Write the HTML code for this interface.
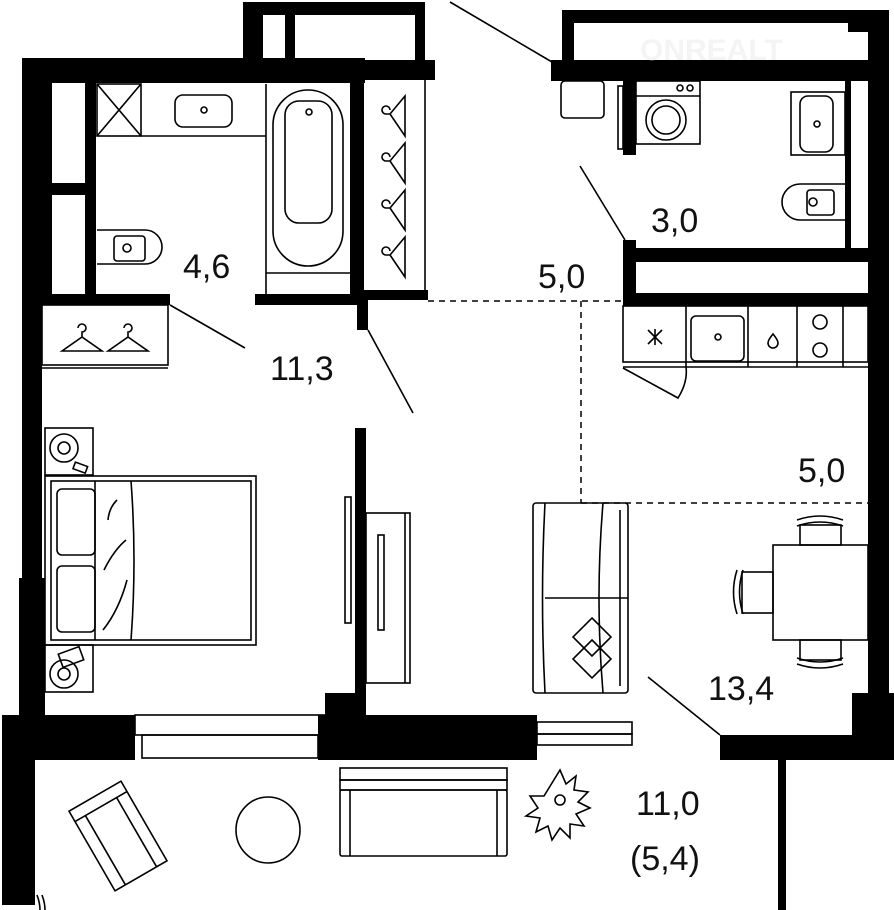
<!DOCTYPE html>
<html><head><meta charset="utf-8"><style>
html,body{margin:0;padding:0;background:#fff}
svg{display:block}
text{font-family:"Liberation Sans",sans-serif;fill:#111}
</style></head><body>
<svg width="894" height="910" viewBox="0 0 894 910" xmlns="http://www.w3.org/2000/svg">
<g fill="#000">
<rect x="243" y="2" width="182" height="13"/>
<rect x="243" y="2" width="20" height="60"/>
<rect x="285" y="12" width="10" height="50"/>
<rect x="415" y="2" width="10" height="60"/>
<rect x="22" y="58" width="343" height="25"/>
<rect x="360" y="60" width="75" height="20"/>
<rect x="22" y="58" width="20" height="520"/>
<rect x="19" y="578" width="26" height="140"/>
<rect x="42" y="83" width="10" height="222"/>
<rect x="85" y="83" width="11" height="212"/>
<rect x="52" y="183" width="33" height="12"/>
<rect x="42" y="294" width="128" height="11"/>
<rect x="255" y="294" width="108" height="11"/>
<rect x="350" y="80" width="14" height="225"/>
<rect x="357" y="300" width="11" height="30"/>
<rect x="363" y="290" width="65" height="10"/>
<rect x="355" y="428" width="11" height="290"/>
<rect x="325" y="693" width="41" height="25"/>
<rect x="2" y="715" width="133" height="45"/>
<rect x="2" y="715" width="33" height="190"/>
<rect x="318" y="715" width="219" height="45"/>
<rect x="720" y="735" width="174" height="25"/>
<rect x="852" y="693" width="42" height="67"/>
<rect x="778" y="758" width="8" height="152"/>
<rect x="868" y="10" width="21" height="730"/>
<rect x="562" y="10" width="327" height="13"/>
<rect x="562" y="10" width="12" height="55"/>
<rect x="551" y="60" width="317" height="21"/>
<rect x="848" y="20" width="20" height="12"/>
<rect x="845" y="80" width="6" height="168"/>
<rect x="623" y="80" width="13" height="75"/>
<rect x="623" y="240" width="13" height="66"/>
<rect x="623" y="248" width="245" height="14"/>
<rect x="623" y="293" width="245" height="13"/>
</g>
<g fill="none" stroke="#000" stroke-width="1.6">
<rect x="135" y="715" width="190" height="20"/>
<rect x="142" y="735" width="176" height="23"/>
<rect x="537" y="722" width="95" height="12"/>
<rect x="537" y="734" width="95" height="11"/>
<line x1="35" y1="83" x2="35" y2="305"/>
<line x1="40" y1="83" x2="40" y2="305"/>
<line x1="425" y1="80" x2="425" y2="290"/>
<rect x="97" y="84" width="44" height="52"/>
<line x1="97" y1="84" x2="141" y2="136"/><line x1="141" y1="84" x2="97" y2="136"/>
<line x1="141" y1="136" x2="266" y2="136"/>
<rect x="175" y="95" width="57" height="32" rx="8"/>
<circle cx="204" cy="110" r="3"/>
<line x1="266" y1="84" x2="266" y2="294"/>
<rect x="273" y="90" width="70" height="176" rx="35"/>
<rect x="285" y="101" width="47" height="122" rx="14"/>
<circle cx="309" cy="112" r="3"/>
<line x1="266" y1="273" x2="350" y2="273"/>
<path d="M97 230 H145 A17 17 0 0 1 145 264 H97"/>
<rect x="114" y="236" width="31" height="25" rx="3"/>
<circle cx="127" cy="248" r="4"/>
<g id="h1"><path d="M405 96 L390 114 L405 136 Z M390 114 H386 a4 4 0 1 1 4 -4"/></g>
<use href="#h1" y="47"/><use href="#h1" y="94"/><use href="#h1" y="141"/>
<rect x="42" y="305" width="126" height="60"/>
<line x1="42" y1="368" x2="168" y2="368"/>
<path d="M62 351 L82 337 L102 351 Z M82 337 v-5 a4 4 0 1 0 -4 -4"/>
<path d="M108 351 L128 337 L148 351 Z M128 337 v-5 a4 4 0 1 0 -4 -4"/>
<rect x="45" y="428" width="48" height="47"/>
<circle cx="64" cy="448" r="14"/><circle cx="64" cy="448" r="6"/>
<rect x="74" y="464" width="13" height="7" transform="rotate(20 80 467)"/>
<rect x="45" y="645" width="48" height="47"/>
<circle cx="64" cy="674" r="14"/><circle cx="64" cy="674" r="6"/>
<rect x="60" y="650" width="22" height="14" transform="rotate(-20 71 657)"/>
<rect x="45" y="476" width="211" height="169"/>
<rect x="51" y="481" width="200" height="159"/>
<rect x="57" y="489" width="38" height="66" rx="5"/>
<rect x="57" y="566" width="38" height="66" rx="5"/>
<path d="M95 481 V640"/>
<path d="M131 481 Q137 560 131 640"/>
<path d="M117 500 q-8 8 -9 20 M126 540 q-12 10 -22 30 M127 580 q-8 30 -24 50"/>
<rect x="345" y="497" width="6" height="126"/>
<rect x="366" y="513" width="44" height="170"/>
<line x1="405" y1="513" x2="405" y2="683"/>
<rect x="378" y="535" width="6" height="95"/>
<rect x="533" y="503" width="95" height="190" rx="3"/>
<path d="M545 503 Q540 598 545 693"/>
<path d="M603 503 Q595 598 603 693"/>
<line x1="545" y1="598" x2="628" y2="598"/>
<line x1="620" y1="510" x2="620" y2="686"/>
<path d="M592 618 l19 19 -19 19 -19 -19 Z"/>
<path d="M592 640 l19 19 -19 19 -19 -19 Z"/>
<rect x="773" y="545" width="95" height="95"/>
<rect x="800" y="525" width="41" height="20"/>
<path d="M797 520 Q820 512 843 520 M797 526 Q820 518 843 526"/>
<rect x="800" y="640" width="41" height="20"/>
<path d="M797 664 Q820 672 843 664 M797 658 Q820 666 843 658"/>
<rect x="742" y="572" width="31" height="41"/>
<path d="M737 570 Q730 592 737 614 M743 570 Q736 592 743 614"/>
<rect x="561" y="81" width="43" height="37" rx="4"/>
<rect x="618" y="86" width="5" height="63"/>
<rect x="636" y="81" width="64" height="63"/>
<line x1="636" y1="96" x2="700" y2="96"/>
<circle cx="666" cy="120" r="20"/><circle cx="666" cy="120" r="14"/>
<circle cx="680" cy="88" r="3"/><circle cx="690" cy="88" r="3"/>
<rect x="791" y="92" width="54" height="63"/>
<rect x="800" y="96" width="33" height="56" rx="8"/>
<circle cx="817" cy="124" r="3"/>
<path d="M845 184 H800 A18 18 0 0 0 800 220 H845"/>
<rect x="807" y="190" width="27" height="25" rx="3"/>
<circle cx="813" cy="202" r="4"/>
<rect x="623" y="306" width="245" height="56"/>
<line x1="623" y1="367" x2="868" y2="367"/>
<line x1="686" y1="306" x2="686" y2="367"/>
<line x1="748" y1="306" x2="748" y2="367"/>
<line x1="797" y1="306" x2="797" y2="367"/>
<line x1="843" y1="306" x2="843" y2="367"/>
<rect x="691" y="316" width="53" height="45" rx="5"/>
<circle cx="718" cy="337" r="3"/>
<circle cx="820" cy="322" r="7"/><circle cx="820" cy="350" r="7"/>
<path d="M773 334 q-5 6 -5 9 a5 5 0 0 0 10 0 q0 -3 -5 -9 Z"/>
<path d="M655 329 v16 M648 330 l14 14 M662 330 l-14 14"/>
<path d="M623 368 L678 398 Q688 382 686 367"/>
<g transform="rotate(-30 118 836)">
<rect x="88" y="790" width="60" height="92"/>
<line x1="88" y1="802" x2="148" y2="802"/>
<line x1="100" y1="802" x2="100" y2="882"/>
<line x1="136" y1="802" x2="136" y2="882"/>
</g>
<ellipse cx="268" cy="830" rx="32" ry="33"/>
<rect x="340" y="768" width="167" height="12"/>
<rect x="340" y="780" width="167" height="10"/>
<rect x="340" y="790" width="167" height="66" rx="2"/>
<line x1="350" y1="790" x2="350" y2="856"/><line x1="497" y1="790" x2="497" y2="856"/>
<path d="M560 770 l6 14 10 -8 -2 14 14 2 -10 10 12 6 -14 6 8 12 -14 -2 0 14 -10 -10 -8 12 -4 -14 -12 6 4 -14 -14 -2 12 -8 -8 -12 14 0 Z"/>
<circle cx="560" cy="800" r="5"/>
<path d="M37 895 Q40 903 40 910 M42 895 Q45 903 45 910"/>
<line x1="170" y1="305" x2="245" y2="348"/>
<line x1="368" y1="330" x2="413" y2="413"/>
<line x1="450" y1="2" x2="552" y2="62"/>
<line x1="580" y1="166" x2="625" y2="240"/>
<line x1="648" y1="677" x2="720" y2="735"/>
</g>
<g fill="none" stroke="#000" stroke-width="1.5" stroke-dasharray="6,5">
<line x1="428" y1="301" x2="623" y2="301"/>
<line x1="581" y1="301" x2="581" y2="503"/>
<line x1="581" y1="503" x2="868" y2="503"/>
</g>
<text x="640" y="60" font-size="30" font-weight="bold" style="fill:#f4f4f4">ONREALT</text>
<g font-size="34">
<text x="183" y="278">4,6</text>
<text x="270" y="380">11,3</text>
<text x="651" y="232">3,0</text>
<text x="538" y="288">5,0</text>
<text x="798" y="482">5,0</text>
<text x="708" y="700">13,4</text>
<text x="636" y="815">11,0</text>
<text x="630" y="870">(5,4)</text>
</g>
</svg>
</body></html>
